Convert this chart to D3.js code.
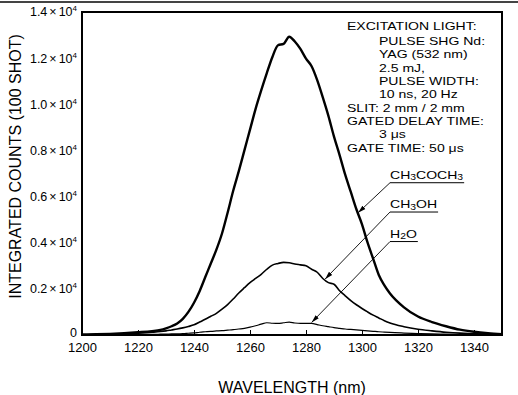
<!DOCTYPE html>
<html>
<head>
<meta charset="utf-8">
<script src="https://cdn.jsdelivr.net/npm/d3@7"></script>
<style>
  body { margin: 0; background: #fff; }
  svg { display: block; }
</style>
</head>
<body>
<div id="chart"></div>
<script>
const wavelengths = [
  1200, 1205, 1210, 1215, 1220, 1225,
  1228, 1230, 1232, 1234, 1236, 1238, 1240, 1242, 1244, 1246,
  1248, 1250, 1252, 1254, 1256, 1258, 1260, 1262, 1264, 1266,
  1268, 1270, 1272, 1274, 1276, 1278, 1280, 1282, 1284, 1286,
  1288, 1290, 1292, 1294, 1296, 1298, 1300, 1302, 1304, 1306,
  1308, 1310,
  1315, 1320, 1325, 1330, 1335, 1340, 1345, 1350
];
const acetone = [
  20, 30, 50, 80, 120, 170,
  220, 290, 380, 500, 700, 1000, 1400, 1900, 2500, 3100,
  3700, 4400, 5300, 6250, 7100, 8000, 8900, 9800, 10600, 11350,
  12050, 12560, 12620, 12930, 12720, 12400, 11980, 11650, 11050, 10300,
  9500, 8600, 7800, 6950, 6200, 5450, 4800, 4000, 3300, 2600,
  2150, 1800,
  1200, 800, 560, 380, 230, 140, 80, 40
];
const methanol = [
  10, 15, 30, 50, 80, 120,
  150, 180, 220, 260, 310, 370, 440, 560, 680, 810,
  940, 1120, 1320, 1560, 1820, 2050, 2270, 2450, 2630, 2850,
  3030, 3100, 3150, 3130, 3080, 3040, 3000, 2850, 2720, 2450,
  2270, 2200, 1920, 1700, 1490, 1310, 1150, 1000, 860, 740,
  620, 520,
  360, 250, 180, 120, 80, 60, 40, 30
];
const water = [
  5, 8, 10, 15, 20, 28,
  35, 40, 45, 50, 60, 75, 90, 120, 140, 160,
  175, 190, 210, 230, 260, 290, 340, 400, 470, 530,
  510, 500, 530, 560, 520, 500, 500, 500, 450, 400,
  360, 320, 290, 260, 240, 220, 200, 180, 160, 140,
  125, 110,
  85, 65, 45, 35, 25, 20, 15, 10
];
const xTicks = [1200, 1220, 1240, 1260, 1280, 1300, 1320, 1340];
const yTicks = [0, 0.2, 0.4, 0.6, 0.8, 1.0, 1.2, 1.4];
const conditions = [
  ['EXCITATION LIGHT:', 0],
  ['PULSE SHG  Nd:', 1],
  ['YAG (532 nm)', 1],
  ['2.5 mJ,', 1],
  ['PULSE WIDTH:', 1],
  ['10 ns, 20 Hz', 1],
  ['SLIT: 2 mm / 2 mm', 0],
  ['GATED DELAY TIME:', 0],
  ['3 \u03bcs', 1],
  ['GATE TIME: 50 \u03bcs', 0]
];

const width = 518;
const height = 395;
const margin = { t: 12, r: 16, b: 60, l: 82 };
const font = "'Liberation Sans', Arial, Helvetica, sans-serif";
const noteSize = 11.5;
const stretch = 1.22; // the notes use a wide face

const svg = d3.select('#chart').append('svg')
  .attr('width', width)
  .attr('height', height)
  .attr('viewBox', [0, 0, width, height])
  .attr('font-family', font);

const x = d3.scaleLinear()
  .domain([1200, 1350])
  .range([margin.l, width - margin.r]);

const y = d3.scaleLinear()
  .domain([0, 14000])
  .range([height - margin.b, margin.t]);

// rule across the top of the page
svg.append('line')
  .attr('x1', 0).attr('x2', width)
  .attr('y1', 2).attr('y2', 2)
  .attr('stroke', '#444')
  .attr('stroke-width', 2);

const line = d3.line()
  .x((_, i) => x(wavelengths[i]))
  .y((d) => y(d))
  .curve(d3.curveMonotoneX);

const series = [
  { name: 'CH3COCH3', values: acetone, w: 2.4, target: 1298.6, labelAt: 6600 },
  { name: 'CH3OH', values: methanol, w: 1.6, target: 1286.8, labelAt: 5330 },
  { name: 'H2O', values: water, w: 1.2, target: 1282, labelAt: 4050 }
];

svg.append('g')
  .selectAll('path')
  .data(series)
  .join('path')
  .attr('fill', 'none')
  .attr('stroke', '#000')
  .attr('stroke-width', (d) => d.w)
  .attr('stroke-linejoin', 'round')
  .attr('d', (d) => line(d.values));

// frame
svg.append('rect')
  .attr('x', x(1200))
  .attr('y', y(14000))
  .attr('width', x(1350) - x(1200))
  .attr('height', y(0) - y(14000))
  .attr('fill', 'none')
  .attr('stroke', '#000')
  .attr('stroke-width', 2);

svg.append('g')
  .attr('transform', `translate(0,${y(0)})`)
  .call(d3.axisBottom(x).tickValues(xTicks).tickSize(-5).tickPadding(7.5).tickFormat(d3.format('d')))
  .call((g) => g.select('.domain').remove())
  .attr('font-family', font)
  .attr('font-size', 13)
  .call((g) => g.selectAll('text').attr('fill', '#000'));

// y tick labels written as m × 10^4
const yLabels = svg.append('g')
  .attr('font-size', 12.5)
  .attr('text-anchor', 'end');

yTicks.forEach((m) => {
  const t = yLabels.append('text')
    .attr('x', margin.l - 5)
    .attr('y', y(m * 1e4))
    .attr('dy', '0.35em');
  if (m === 0) {
    t.attr('dy', '0.12em').text('0');
    return;
  }
  t.append('tspan').text(m.toFixed(1));
  t.append('tspan').attr('dx', 2).text('\u00d7');
  t.append('tspan').attr('dx', 2).text('10');
  t.append('tspan').attr('dy', -5).attr('font-size', 8).text('4');
});

svg.append('text')
  .attr('transform', `translate(20.5,${(y(0) + y(14000)) / 2 - 7}) rotate(-90)`)
  .attr('text-anchor', 'middle')
  .attr('font-size', 16)
  .text('INTEGRATED COUNTS (100 SHOT)');

svg.append('text')
  .attr('x', (x(1200) + x(1350)) / 2)
  .attr('y', 393)
  .attr('text-anchor', 'middle')
  .attr('font-size', 16)
  .text('WAVELENGTH (nm)');

function widen(sel) {
  sel.each(function () {
    const len = this.getComputedTextLength();
    d3.select(this)
      .attr('textLength', len * stretch)
      .attr('lengthAdjust', 'spacingAndGlyphs');
  });
}

// measurement conditions
svg.append('g')
  .attr('font-size', noteSize)
  .style('white-space', 'pre')
  .selectAll('text')
  .data(conditions)
  .join('text')
  .attr('x', (d) => (d[1] ? 379 : 347))
  .attr('y', (_, i) => (i === 0 ? 30 : 45 + (i - 1) * 13.33))
  .text((d) => d[0])
  .call(widen);

// leader arrows to each curve
svg.append('defs').append('marker')
  .attr('id', 'arrow')
  .attr('viewBox', '0 0 10 10')
  .attr('refX', 10)
  .attr('refY', 5)
  .attr('markerWidth', 8)
  .attr('markerHeight', 8)
  .attr('markerUnits', 'userSpaceOnUse')
  .attr('orient', 'auto')
  .append('path')
  .attr('d', 'M0,2.2L10,5L0,7.8Z')
  .attr('fill', '#000');

function valueAt(values, wl) {
  const i = d3.bisectRight(wavelengths, wl);
  const x0 = wavelengths[i - 1], x1 = wavelengths[i];
  const t = (wl - x0) / (x1 - x0);
  return values[i - 1] + t * (values[i] - values[i - 1]);
}

const labelX = x(1310);
series.forEach((s) => {
  const uy = y(s.labelAt);
  const txt = svg.append('text')
    .attr('x', labelX)
    .attr('y', uy - 3.6)
    .attr('font-size', noteSize);
  let sub = false;
  s.name.split(/(\d)/).filter((p) => p).forEach((p) => {
    const isSub = /\d/.test(p);
    const shift = isSub === sub ? 0 : (isSub ? 1.2 : -1.2);
    sub = isSub;
    txt.append('tspan')
      .attr('dy', shift)
      .attr('font-size', isSub ? 8.5 : null)
      .text(p);
  });
  const len = txt.node().getComputedTextLength() * stretch;
  txt.call(widen);
  svg.append('line')
    .attr('x1', labelX).attr('x2', labelX + len + 1)
    .attr('y1', uy).attr('y2', uy)
    .attr('stroke', '#000')
    .attr('stroke-width', 1);
  svg.append('line')
    .attr('x1', labelX).attr('y1', uy)
    .attr('x2', x(s.target))
    .attr('y2', y(valueAt(s.values, s.target)) - 1)
    .attr('stroke', '#000')
    .attr('stroke-width', 0.9)
    .attr('marker-end', 'url(#arrow)');
});
</script>
</body>
</html>
